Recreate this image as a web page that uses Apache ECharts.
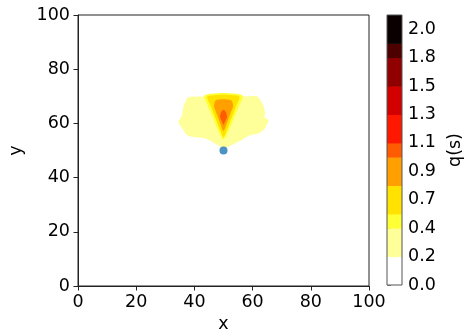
<!DOCTYPE html>
<html>
<head>
<meta charset="utf-8">
<script src="https://cdn.jsdelivr.net/npm/echarts@6/dist/echarts.min.js"></script>
<style>
  html, body { margin: 0; padding: 0; background: #fff; }
  #chart { width: 466px; height: 332px; }
</style>
</head>
<body>
<div id="chart"></div>
<script>
// colour bar: band edges (q values) and the hot_r colour of each band
const bandEdges = [0, 0.2214, 0.4428, 0.5535, 0.7749, 0.9963, 1.107, 1.3284, 1.5498, 1.7712, 1.8819, 2.1033];
const bandColors = ['#ffffff', '#ffff9a', '#ffff36', '#ffe200', '#ff9f00', '#ff5b00', '#ff1800', '#d30000', '#910000', '#4d0000', '#0b0000'];
const cbTicks = [0, 0.2214, 0.4428, 0.6642, 0.8856, 1.107, 1.3284, 1.5498, 1.7712, 1.9926];
const cbLabels = ['0.0', '0.2', '0.4', '0.7', '0.9', '1.1', '1.3', '1.5', '1.8', '2.0'];

// filled contour outlines, [x, y] in data units, with the band index they fill
const contourBand = [1, 2, 3, 4, 5];
const contourShapes = [
  [[37.8, 69.6], [41.9, 69.9], [45.4, 70.3], [49.9, 71.3], [54.3, 70.3], [57.4, 70.0], [61.5, 70.0],
   [62.6, 68.7], [63.8, 66.3], [64.3, 63.8], [64.1, 62.2], [65.5, 61.3], [64.9, 59.5], [63.8, 57.6],
   [62.1, 56.4], [59.8, 55.8], [58.1, 55.2], [56.3, 53.9], [54.0, 52.7], [51.8, 51.5], [50.0, 50.9],
   [47.8, 52.1], [45.5, 53.6], [43.2, 54.6], [40.3, 54.8], [37.5, 55.6], [35.8, 58.3], [34.8, 59.7],
   [34.6, 61.1], [35.2, 61.7], [35.8, 63.4], [36.1, 65.6], [36.7, 67.5]],
  [[43.6, 70.4], [46.5, 71.0], [50.0, 71.2], [53.5, 71.0], [56.4, 70.4], [56.6, 69.6], [55.0, 65.5],
   [53.2, 61.0], [51.4, 56.5], [50.0, 54.0], [48.6, 56.5], [46.8, 61.0], [45.0, 65.5], [43.4, 69.6]],
  [[44.4, 69.9], [47.0, 70.4], [50.0, 70.6], [53.0, 70.4], [55.5, 69.9], [54.2, 66.0], [52.6, 61.5],
   [51.0, 57.0], [50.0, 54.8], [49.0, 57.0], [47.4, 61.5], [45.8, 66.0]],
  [[47.2, 68.4], [48.5, 68.8], [50.0, 68.9], [51.5, 68.8], [52.8, 68.4], [53.3, 66.3], [52.5, 64.0],
   [51.3, 60.5], [50.0, 57.2], [48.7, 60.5], [47.5, 64.0], [46.7, 66.3]],
  [[49.2, 64.2], [50.0, 65.0], [50.8, 64.2], [51.2, 62.4], [50.6, 60.8], [50.0, 59.5], [49.4, 60.8], [48.8, 62.4]]
];

const sourcePoint = [[50, 50]];

const chart = echarts.init(document.getElementById('chart'));

const tickFont = { fontFamily: 'DejaVu Sans', fontSize: 17.5, color: '#000' };
const lineStyle = { color: '#222', width: 1 };

chart.setOption({
  animation: false,
  backgroundColor: '#fff',
  grid: [
    { left: 78, right: 97, top: 15, bottom: 46, show: true, borderColor: '#222', borderWidth: 1, outerBoundsMode: 'none' },
    { left: 387, width: 15, top: 15, bottom: 47, outerBoundsMode: 'none' }
  ],
  xAxis: [
    {
      gridIndex: 0, type: 'value', min: 0, max: 100, interval: 20,
      name: 'x', nameLocation: 'middle', nameGap: 29,
      nameTextStyle: tickFont,
      axisLine: { show: true, lineStyle: lineStyle },
      axisTick: { show: true, length: 4.5, lineStyle: lineStyle },
      axisLabel: Object.assign({ margin: 7 }, tickFont),
      splitLine: { show: false }
    },
    {
      gridIndex: 1, type: 'value', min: 0, max: 1, show: false
    }
  ],
  yAxis: [
    {
      gridIndex: 0, type: 'value', min: 0, max: 100, interval: 20,
      name: 'y', nameLocation: 'middle', nameGap: 40, nameRotate: 90,
      nameTextStyle: tickFont,
      axisLine: { show: true, lineStyle: lineStyle },
      axisTick: { show: true, length: 4.5, lineStyle: lineStyle },
      axisLabel: Object.assign({ margin: 8 }, tickFont),
      splitLine: { show: false }
    },
    {
      gridIndex: 1, type: 'value', position: 'right',
      min: 0, max: bandEdges[bandEdges.length - 1],
      name: 'q(s)', nameLocation: 'middle', nameGap: 44, nameRotate: 90,
      nameTextStyle: tickFont,
      axisLine: { show: false },
      axisTick: { show: true, length: 4, lineStyle: lineStyle, customValues: cbTicks },
      axisLabel: Object.assign({
        margin: 6,
        customValues: cbTicks,
        formatter: function (v) {
          const i = cbTicks.findIndex(t => Math.abs(t - v) < 1e-6);
          return i >= 0 ? cbLabels[i] : '';
        }
      }, tickFont),
      splitLine: { show: false }
    }
  ],
  series: [
    {
      type: 'custom',
      xAxisIndex: 0, yAxisIndex: 0,
      silent: true,
      data: contourShapes.map(s => s[0]),
      renderItem: function (params, api) {
        const pts = contourShapes[params.dataIndex].map(p => api.coord(p));
        return {
          type: 'polygon',
          shape: { points: pts, smooth: 0.25 },
          style: { fill: bandColors[contourBand[params.dataIndex]], stroke: null }
        };
      }
    },
    {
      type: 'scatter',
      xAxisIndex: 0, yAxisIndex: 0,
      data: sourcePoint,
      symbolSize: 8,
      itemStyle: { color: '#1f77b4' },
      z: 5
    },
    {
      type: 'custom',
      xAxisIndex: 1, yAxisIndex: 1,
      silent: true,
      data: bandColors.map((c, i) => [0, bandEdges[i], 1, bandEdges[i + 1]]),
      renderItem: function (params, api) {
        const p0 = api.coord([api.value(0), api.value(1)]);
        const p1 = api.coord([api.value(2), api.value(3)]);
        return {
          type: 'rect',
          shape: { x: p0[0], y: p1[1], width: p1[0] - p0[0], height: p0[1] - p1[1] + 0.5 },
          style: { fill: bandColors[params.dataIndex], stroke: null }
        };
      }
    },
    {
      type: 'custom',
      xAxisIndex: 1, yAxisIndex: 1,
      silent: true,
      z: 4,
      data: [[0, 0, 1, bandEdges[bandEdges.length - 1]]],
      renderItem: function (params, api) {
        const p0 = api.coord([api.value(0), api.value(1)]);
        const p1 = api.coord([api.value(2), api.value(3)]);
        return {
          type: 'rect',
          shape: { x: p0[0], y: p1[1], width: p1[0] - p0[0], height: p0[1] - p1[1] },
          style: { fill: null, stroke: '#555', lineWidth: 1 }
        };
      }
    }
  ]
});
</script>
</body>
</html>
